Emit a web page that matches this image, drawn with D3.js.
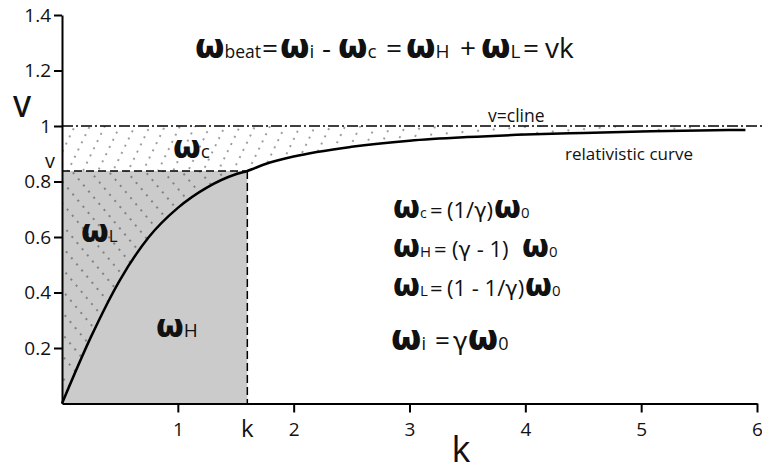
<!DOCTYPE html>
<html><head><meta charset="utf-8">
<script src="https://cdn.jsdelivr.net/npm/d3@7"></script>
<style>body{margin:0;background:#fff}svg{display:block}text{font-family:"Open Sans",sans-serif;fill:#111}</style>
</head><body><svg id="c" width="762" height="469"></svg>
<script>
// data
const kValues=[0,0.25,0.5,0.75,1,1.25,1.5,1.6,1.75,2,2.5,3,3.5,4,4.5,5,5.5,5.9];
const vValues=[0,0.24,0.445,0.6,0.705,0.778,0.826,0.838,0.862,0.89,0.925,0.947,0.96,0.969,0.975,0.98,0.984,0.986];
const xTicks=[1,2,3,4,5,6];
const yTicks=[0.2,0.4,0.6,0.8,1,1.2,1.4];
const kMark=1.6, vMark=0.838, vLight=1;

const svg=d3.select('#c');
const x=d3.scaleLinear([0,6],[62,757]);
const y=d3.scaleLinear([0,1.4],[403.5,15]);
const pts=kValues.map((k,i)=>({k,v:vValues[i]}));

const defs=svg.append('defs');
function hatch(id,angle,w,h){
  const p=defs.append('pattern').attr('id',id).attr('patternUnits','userSpaceOnUse')
    .attr('width',w).attr('height',h).attr('patternTransform',`rotate(${angle})`);
  p.append('circle').attr('cx',1).attr('cy',h/2).attr('r',0.8).attr('fill','#222');
}
hatch('hA',26,13.5,8);
hatch('hB',-40,14,8);

// gray rectangle (omega_H region)
svg.append('rect').attr('x',x(0)).attr('y',y(vMark)).attr('width',x(kMark)-x(0)).attr('height',y(0)-y(vMark)).attr('fill','#cbcbcb');

// upper hatched region (omega_c) between max(curve,vMark) and v=1
const upper=[{k:0,v:vMark}].concat(pts.filter(p=>p.k>=kMark));
svg.append('path').datum(upper)
  .attr('d',d3.area().x(d=>x(d.k)).y0(d=>y(Math.max(d.v,vMark))).y1(y(vLight)).curve(d3.curveMonotoneX))
  .attr('fill','url(#hA)');
// left hatched region (omega_L) between axis and curve
const left=pts.filter(p=>p.k<=kMark);
svg.append('path').datum(left)
  .attr('d',d3.area().y(d=>y(d.v)).x0(x(0)).x1(d=>x(d.k)).curve(d3.curveMonotoneY))
  .attr('fill','url(#hB)');

// dashed lines
svg.append('line').attr('x1',x(0)).attr('x2',x(kMark)).attr('y1',y(vMark)).attr('y2',y(vMark))
  .attr('stroke','#000').attr('stroke-width',1.5).attr('stroke-dasharray','8,4');
svg.append('line').attr('x1',x(kMark)).attr('x2',x(kMark)).attr('y1',y(vMark)).attr('y2',y(0))
  .attr('stroke','#000').attr('stroke-width',1.5).attr('stroke-dasharray','8,4');
// v = c line
svg.append('line').attr('x1',x(0)).attr('x2',762).attr('y1',y(vLight)).attr('y2',y(vLight))
  .attr('stroke','#000').attr('stroke-width',1.3).attr('stroke-dasharray','11,3,2,3');

// relativistic curve
svg.append('path').datum(pts)
  .attr('d',d3.line().x(d=>x(d.k)).y(d=>y(d.v)).curve(d3.curveMonotoneX))
  .attr('fill','none').attr('stroke','#000').attr('stroke-width',2.5);

// axes
const gx=svg.append('g').attr('transform',`translate(0,${y(0)})`)
  .call(d3.axisBottom(x).tickValues(xTicks).tickFormat(d=>String(d)).tickSize(9).tickPadding(10).tickSizeOuter(0));
const gy=svg.append('g').attr('transform',`translate(${x(0)},0)`)
  .call(d3.axisLeft(y).tickValues(yTicks).tickFormat(d=>String(d)).tickSize(8).tickPadding(3).tickSizeOuter(0));
[gx,gy].forEach(g=>{
  g.select('.domain').attr('stroke','#000').attr('stroke-width',2);
  g.selectAll('.tick line').attr('stroke','#000').attr('stroke-width',2);
  g.selectAll('.tick text').attr('font-family','"Open Sans",sans-serif').attr('font-size',19).attr('fill','#111');
});

// equations: tokens [x or null (flow), text, size, kind] kind 1 = omega, 2 = gamma
const O='\u03c9', G='\u03b3';
function eq(baseline,tokens){
  const t=svg.append('text').attr('y',baseline);
  tokens.forEach(([px,s,size,kind])=>{
    const ts=t.append('tspan').attr('font-size',size).text(s);
    if(px!=null) ts.attr('x',px);
    if(kind===1) ts.attr('font-family','"DejaVu Sans",sans-serif').attr('font-weight','bold');
    if(kind===2) ts.attr('font-family','"DejaVu Sans",sans-serif');
  });
}
eq(58,[[195,O,34,1],[null,'beat',17.5],[262,'=',28],[280,O,34,1],[null,'i',19],[322,'-',28],[338,O,34,1],[null,'c',19],[386,'=',28],[406,O,34,1],[null,'H',19],[460,'+',28],[481,O,34,1],[null,'L',19],[523,'=',28],[545,'vk',28]]);
eq(218,[[393,O,31,1],[null,'c',14],[430,'=',22],[447,'(1/',22],[null,G,21,2],[null,')',22],[494,O,31,1],[null,'0',15]]);
eq(257,[[393,O,31,1],[null,'H',15],[434,'=',22],[452,'(',22],[null,G,21,2],[null,' - 1)',22],[522,O,31,1],[null,'0',15]]);
eq(296,[[393,O,31,1],[null,'L',15],[430,'=',22],[447,'(1 - 1/',22],[null,G,21,2],[null,')',22],[525,O,31,1],[null,'0',15]]);
eq(350,[[391,O,35,1],[null,'i',18],[435,'=',26],[453,G,25,2],[null,O,35,1],[null,'0',18]]);
eq(158,[[173,O,32,1],[null,'c',19]]);
eq(242,[[81,O,32,1],[null,'L',17]]);
eq(337,[[156,O,32,1],[null,'H',19]]);

svg.append('text').attr('x',22).attr('y',117).attr('text-anchor','middle').attr('font-size',29).attr('font-weight',600).text('V');
svg.append('text').attr('x',50).attr('y',168).attr('text-anchor','middle').attr('font-size',20).text('v');
svg.append('text').attr('x',x(kMark)).attr('y',437).attr('text-anchor','middle').attr('font-size',24).text('k');
svg.append('text').attr('x',461).attr('y',462).attr('text-anchor','middle').attr('font-size',36).text('k');
svg.append('text').attr('x',488).attr('y',122).attr('font-size',17.5).text('v=cline');
svg.append('text').attr('x',565).attr('y',160).attr('font-size',17).text('relativistic curve');
</script></body></html>
